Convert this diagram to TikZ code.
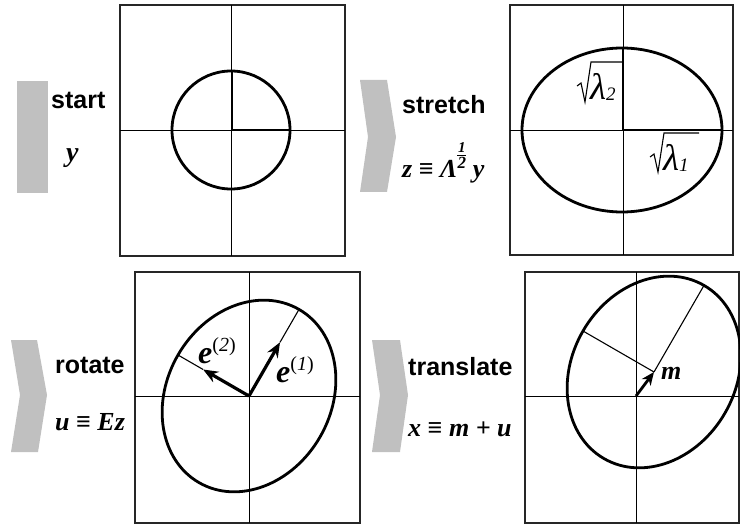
\documentclass[tikz,border=0pt]{standalone}
\usepackage{fontspec}
\setsansfont{Liberation Sans}
\newfontfamily\tms{Liberation Serif}
\usetikzlibrary{arrows.meta}
\definecolor{bandgray}{HTML}{C0C0C0}
\begin{document}
\begin{tikzpicture}[x=1pt,y=-1pt,
  panel/.style={draw=black!85, line width=1.3pt},
  axis/.style={draw=black, line width=0.9pt},
  curve/.style={draw=black, line width=2.8pt},
  radiusline/.style={draw=black, line width=2.4pt},
  thinline/.style={draw=black, line width=1.1pt},
  vec/.style={draw=black, line width=3.2pt, -{Stealth[length=15pt,width=12pt,inset=5pt]}},
  chev/.style={fill=bandgray, draw=none},
  word/.style={font=\sffamily\bfseries\fontsize{25}{30}\selectfont, inner sep=0pt, anchor=base west},
  formula/.style={font=\tms\bfseries\itshape\fontsize{26}{30}\selectfont, inner sep=0pt, anchor=base west},
  lam/.style={font=\tms\itshape\fontsize{37}{38}\selectfont, inner sep=0pt, anchor=base west},
  radical/.style={draw=black, line width=1.1pt, line join=miter},
]
\useasboundingbox (0,0) rectangle (740,524);

% ---------- chevrons ----------
\fill[chev] (17,81) rectangle (48,193);
\fill[chev] (360,80) -- (387,80) -- (396,137) -- (387,192) -- (360,192) -- (368,137) -- cycle;
\fill[chev] (11,340) -- (37,340) -- (47,395) -- (38,452) -- (11,452) -- (20,395) -- cycle;
\fill[chev] (372,340) -- (400,340) -- (408,395) -- (400,452) -- (372,452) -- (380,395) -- cycle;

% ---------- labels ----------
\node[word] (tstart) at (51,109) {start};
\node[formula, font=\tms\bfseries\itshape\fontsize{28}{30}\selectfont] (ty) at (66,162) {y};
\node[word] (tstretch) at (402,114) {stretch};
\node[formula] (tz) at (402,178) {z ≡ Λ\raisebox{9pt}{\shortstack{\fontsize{15}{15}\selectfont 1\\[-1pt]\rule{9pt}{0.8pt}\\[-1pt]\fontsize{17}{17}\selectfont 2}} y};
\node[word] (trotate) at (55,373) {rotate};
\node[formula] (tu) at (55,430) {u ≡ Ez};
\node[word] (ttranslate) at (408,375) {translate};
\node[formula] (tx) at (408,436) {x ≡ m + u};

% ---------- panel 1: start ----------
\draw[panel] (120,5) rectangle (345,256);
\coordinate (O1) at (231,130);
\draw[axis] (120,130) -- (345,130);
\draw[axis] (231,5) -- (231,256);
\draw[curve] (O1) circle[radius=59pt];
\coordinate (c1top) at (232,71);
\coordinate (c1right) at (290,130);
\draw[radiusline] (232,130) -- (c1top);
\draw[radiusline] (O1) -- (c1right);

% ---------- panel 2: stretch ----------
\draw[panel] (510,5) rectangle (733,255);
\coordinate (O2) at (623,130);
\draw[axis] (510,130) -- (733,130);
\draw[axis] (623,5) -- (623,255);
\draw[curve] (622,130) ellipse[x radius=100pt, y radius=82pt];
\coordinate (c2top) at (623,48);
\coordinate (c2right) at (722,130);
\draw[radiusline] (O2) -- (c2top);
\draw[radiusline] (O2) -- (c2right);
\draw[radical] (577,86) -- (581,83) -- (585,102) -- (591,62) -- (623,62);
\node[lam] (lam2) at (590,100) {λ\raisebox{-1pt}{\fontsize{19}{19}\selectfont 2}};
\draw[radical] (650,157) -- (654,154) -- (658,172) -- (664,133) -- (699,133);
\node[lam] (lam1) at (663,171) {λ\raisebox{-1pt}{\fontsize{19}{19}\selectfont 1}};

% ---------- panel 3: rotate ----------
\draw[panel] (135,272) rectangle (360,523);
\coordinate (O3) at (249,396);
\draw[axis] (135,396) -- (360,396);
\draw[axis] (249,272) -- (249,523);
\draw[curve, rotate around={60:(O3)}] (O3) ellipse[x radius=100pt, y radius=82pt];
\coordinate (e1tip) at (280,342.3);
\coordinate (e2tip) at (203.1,369.5);
\coordinate (e1end) at (299,309.4);
\coordinate (e2end) at (178,355);
\draw[thinline] (e1tip) -- (e1end);
\draw[thinline] (e2tip) -- (e2end);
\draw[vec] (O3) -- (e1tip);
\draw[vec] (O3) -- (e2tip);
\node[inner sep=0pt, anchor=base west] (le2) at (198,363)
  {{\tms\bfseries\itshape\fontsize{32}{32}\selectfont e}\raisebox{12pt}{\tms\fontsize{20}{20}\selectfont(\textit{2})}};
\node[inner sep=0pt, anchor=base west] (le1) at (276,382)
  {{\tms\bfseries\itshape\fontsize{32}{32}\selectfont e}\raisebox{12pt}{\tms\fontsize{20}{20}\selectfont(\textit{1})}};

% ---------- panel 4: translate ----------
\draw[panel] (525,272) rectangle (739,523);
\coordinate (O4) at (636,396);
\coordinate (m) at (654,372);
\draw[axis] (525,396) -- (739,396);
\draw[axis] (636,272) -- (636,523);
\draw[curve, rotate around={60:(m)}] (m) ellipse[x radius=100pt, y radius=82pt];
\coordinate (m1end) at (704,285.4);
\coordinate (m2end) at (583,331);
\draw[thinline] (m) -- (m1end);
\draw[thinline] (m) -- (m2end);
\draw[vec, line width=2.8pt, -{Stealth[length=13pt,width=11pt,inset=4pt]}] (O4) -- (m);
\node[formula] (lm) at (661,379) {m};
\end{tikzpicture}
\end{document}
